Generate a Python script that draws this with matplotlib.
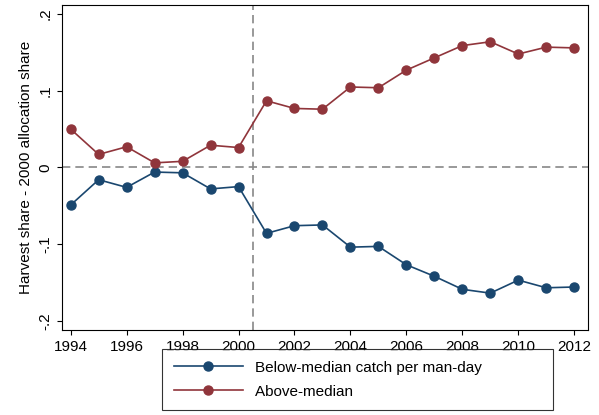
import matplotlib.pyplot as plt

years = list(range(1994, 2013))
below = [-0.049, -0.016, -0.026, -0.006, -0.007, -0.028, -0.025, -0.086, -0.076, -0.075,
         -0.104, -0.103, -0.127, -0.142, -0.159, -0.164, -0.147, -0.157, -0.156]
above = [0.050, 0.017, 0.027, 0.006, 0.008, 0.029, 0.026, 0.087, 0.077, 0.076,
         0.105, 0.104, 0.127, 0.143, 0.159, 0.164, 0.148, 0.157, 0.156]
yticks = [-0.2, -0.1, 0, 0.1, 0.2]
ylabels = ["-.2", "-.1", "0", ".1", ".2"]

plt.rcParams['font.family'] = ['Liberation Sans', 'DejaVu Sans']
fig = plt.figure(figsize=(5.99, 4.15), dpi=100)
ax = fig.add_axes([0.104, 0.205, 0.878, 0.783])

navy = '#1a476f'
maroon = '#90353b'
l1, = ax.plot(years, below, color=navy, marker='o', markersize=6.5, lw=1.2)
l2, = ax.plot(years, above, color=maroon, marker='o', markersize=6.5, lw=1.2)
ax.axhline(0, color='#888888', ls=(0, (5, 3)), lw=1.2, zorder=0)
ax.axvline(2000.5, color='#888888', ls=(0, (5, 3)), lw=1.2, zorder=0)

ax.set_xlim(1993.7, 2012.5)
ax.set_ylim(-0.212, 0.212)
ax.set_xticks(range(1994, 2013, 2))
ax.set_yticks(yticks)
ax.set_yticklabels(ylabels, rotation=90, va='center')
ax.tick_params(labelsize=11)
ax.set_ylabel("Harvest share - 2000 allocation share", fontsize=11)

fig.legend([l1, l2], ["Below-median catch per man-day", "Above-median"],
           loc='lower center', bbox_to_anchor=(0.597, 0.012), ncol=1,
           fontsize=11, frameon=True, fancybox=False, edgecolor='black',
           borderpad=0.75, borderaxespad=0, handlelength=4.5, handletextpad=0.8,
           labelspacing=0.65)
leg = fig.legends[0]
leg.get_frame().set_linewidth(0.8)
# pad the labels so the frame reaches the reference width
for t in leg.get_texts():
    t.set_text(t.get_text() + " " * 14)

fig.savefig("out.png", dpi=100)
